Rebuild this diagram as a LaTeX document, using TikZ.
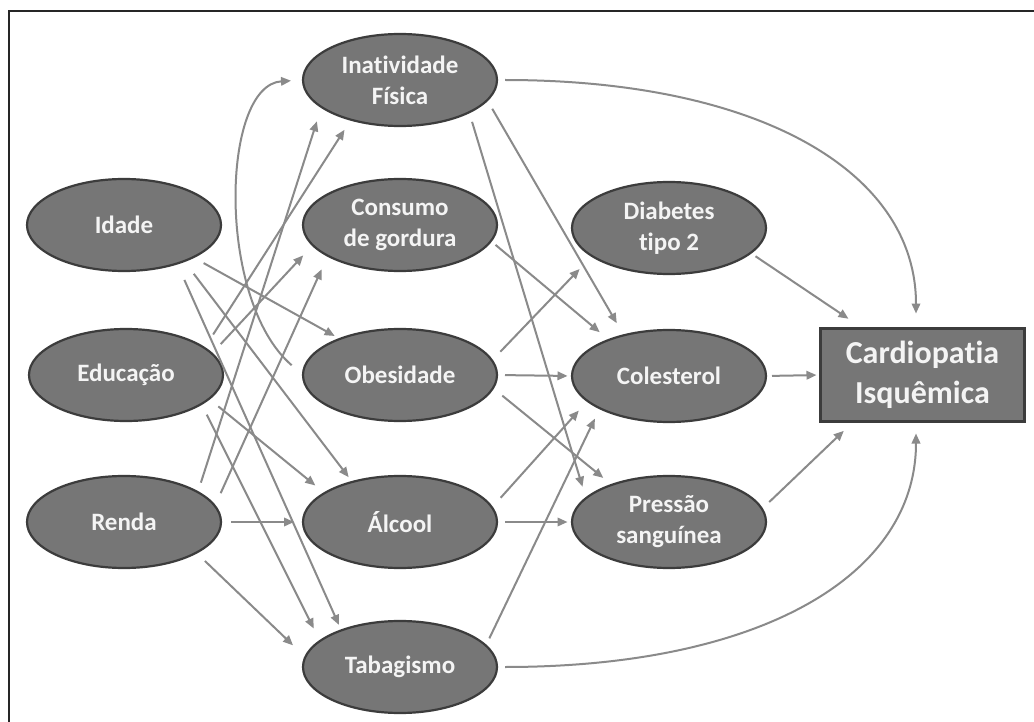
\documentclass[tikz,border=0pt]{standalone}
\usepackage{fontspec}
\setmainfont{Carlito}[Ligatures={NoCommon}]
\usetikzlibrary{arrows.meta,shapes.geometric}
\definecolor{nodefill}{HTML}{767676}
\definecolor{nodeline}{HTML}{3C3C3C}
\definecolor{arrowcol}{HTML}{8A8A8A}
\definecolor{txtcol}{HTML}{F4F4F4}
\begin{document}
\begin{tikzpicture}[x=1pt,y=-1pt,
  oval/.style={ellipse, fill=nodefill, draw=nodeline, line width=2.2pt,
    minimum width=194pt, minimum height=92pt, inner sep=0pt, outer sep=0pt,
    text=txtcol, font=\bfseries\fontsize{25}{31}\selectfont, align=center},
  target/.style={rectangle, fill=nodefill, draw=nodeline, line width=3pt,
    minimum width=204pt, minimum height=93pt, inner sep=0pt, outer sep=0pt,
    text=txtcol, font=\bfseries\fontsize{32}{40}\selectfont, align=center},
  arr/.style={draw=arrowcol, line width=2pt, -{Triangle[length=10pt,width=8.5pt]}},
  frameline/.style={draw=black!85, line width=2.5pt}
]
\useasboundingbox (0,0) rectangle (1034,722);
\fill[white] (0,0) rectangle (1034,722);
\draw[frameline] (9,722) -- (9,11) -- (1034,11);

% nodes
\node[oval] (idade) at (124,225) {Idade};
\node[oval] (educ)  at (126,375) {Educação};
\node[oval] (renda) at (124,522) {Renda};
\node[oval] (inat)  at (400,80)  {Inatividade\\Física};
\node[oval] (cons)  at (400,225) {Consumo\\de gordura};
\node[oval] (obes)  at (400,375) {Obesidade};
\node[oval] (alc)   at (400,522) {Álcool};
\node[oval] (tab)   at (400,667) {Tabagismo};
\node[oval] (diab)  at (669,228) {Diabetes\\tipo 2};
\node[oval] (col)   at (669,376) {Colesterol};
\node[oval] (pres)  at (669,522) {Pressão\\sanguínea};
\node[target] (card) at (922.5,375) {Cardiopatia\\Isquêmica};

% left column -> middle column
\draw[arr, shorten <=12pt, shorten >=6pt]  (idade.-25) -- (obes.149);
\draw[arr, shorten <=16pt, shorten >=6pt]  (idade.-31) -- (alc.140);
\draw[arr, shorten <=18pt, shorten >=6pt]  (idade.-36) -- (tab.148);
\draw[arr, shorten <=16pt, shorten >=12pt] (educ.19) -- (inat.219);
\draw[arr, shorten <=13pt, shorten >=14pt] (educ.14) -- (cons.193);
\draw[arr, shorten <=12pt, shorten >=12pt] (educ.-16) -- (alc.159);
\draw[arr, shorten <=12pt, shorten >=14pt] (educ.-21) -- (tab.162);
\draw[arr, shorten <=10pt, shorten >=15pt] (renda.22) -- (inat.199);
\draw[arr, shorten <=14pt, shorten >=15pt] (renda.10) -- (cons.203);
\draw[arr, shorten <=10pt, shorten >=9pt]  (renda.east) -- (alc.west);
\draw[arr, shorten <=12pt, shorten >=17pt] (renda.-23) -- (tab.174);

% obesidade -> inatividade (curved)
\draw[arr, shorten <=15pt, shorten >=12pt]
  (obes.west) .. controls +(-87,-75) and +(-82,5) .. (inat.west);

% middle column -> right column
\draw[arr, shorten <=10pt, shorten >=14pt] (inat.-13) -- (col.138);
\draw[arr, shorten <=10pt, shorten >=12pt] (inat.-25) -- (pres.164);
\draw[arr, shorten <=6pt, shorten >=12pt]  (cons.-10) -- (col.149);
\draw[arr, shorten <=12pt, shorten >=18pt] (obes.9) -- (diab.200);
\draw[arr, shorten <=8pt, shorten >=4.5pt] (obes.east) -- (col.west);
\draw[arr, shorten <=12pt, shorten >=11pt] (obes.-8) -- (pres.147);
\draw[arr, shorten <=13pt, shorten >=13pt] (alc.9) -- (col.197);
\draw[arr, shorten <=8pt, shorten >=4.5pt] (alc.east) -- (pres.west);
\draw[arr, shorten <=8pt, shorten >=11.5pt] (tab.14) -- (col.205);

% curves to the outcome
\draw[arr, shorten <=8pt, shorten >=15pt]
  (inat.east) .. controls +(262,0) and +(0,-157) .. ([xshift=-6.5pt]card.north);
\draw[arr, shorten <=8pt, shorten >=12pt]
  (tab.east) .. controls +(262,0) and +(0,155) .. ([xshift=-6.5pt]card.south);

% right column -> outcome
\draw[arr, shorten <=6pt, shorten >=17.5pt] (diab.-17) -- (card.142);
\draw[arr, shorten <=6pt, shorten >=4pt]    (col.east) -- (card.west);
\draw[arr, shorten <=10pt, shorten >=13.5pt] (pres.8) -- (card.214);
\end{tikzpicture}
\end{document}
